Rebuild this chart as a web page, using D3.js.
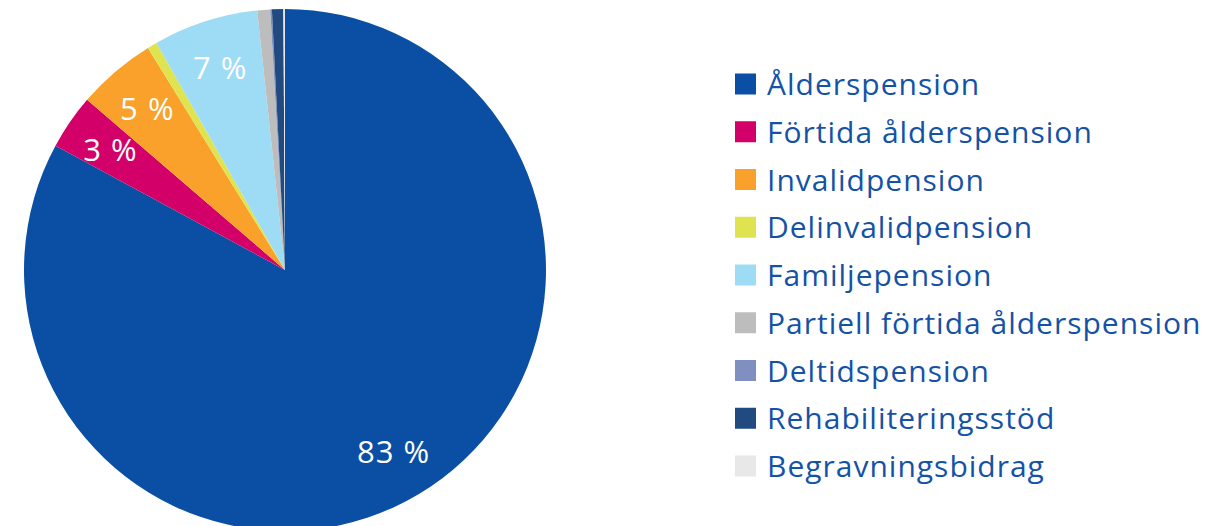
<!DOCTYPE html>
<html>
<head>
<meta charset="utf-8">
<script src="https://cdn.jsdelivr.net/npm/d3@7"></script>
<style>
  body { margin: 0; background: #fff; }
  text { font-family: "Open Sans", "Noto Sans", sans-serif; }
</style>
</head>
<body>
<script>
var categories = ["Ålderspension", "Förtida ålderspension", "Invalidpension", "Delinvalidpension",
                  "Familjepension", "Partiell förtida ålderspension", "Deltidspension",
                  "Rehabiliteringsstöd", "Begravningsbidrag"];
var shares = [82.9, 3.4, 4.9, 0.6, 6.5, 0.8, 0.1, 0.7, 0.1];
var labels = ["83 %", "3 %", "5 %", "", "7 %", "", "", "", ""];
var colors = ["#0a4fa3", "#d20068", "#f9a12a", "#dfe34f", "#9ddcf4", "#bdbdbd", "#7f90c0", "#214a80", "#e8e8e8"];

var data = categories.map(function(c, i){ return {name: c, value: shares[i], label: labels[i]}; });

var width = 1232, height = 526;
var cx = 285, cy = 270, r = 261;

var svg = d3.select("body").append("svg").attr("width", width).attr("height", height);

var color = d3.scaleOrdinal().domain(categories).range(colors);

var pie = d3.pie().sort(null).value(function(d){ return d.value; });
var arc = d3.arc().innerRadius(0).outerRadius(r);
var labelArc = d3.arc().innerRadius(212).outerRadius(212);

var g = svg.append("g").attr("transform", "translate(" + cx + "," + cy + ")");

g.selectAll("path")
      .data(pie(data))
      .enter().append("path")
                .attr("d", arc)
                .attr("fill", function(d){ return color(d.data.name); });

g.selectAll("text")
      .data(pie(data).filter(function(d){ return d.data.label; }))
      .enter().append("text")
                .attr("transform", function(d){ return "translate(" + labelArc.centroid(d) + ")"; })
                .attr("text-anchor", "middle")
                .attr("dy", "0.36em")
                .attr("fill", "#fff")
                .attr("font-size", 31)
                .attr("letter-spacing", 1)
                .text(function(d){ return d.data.label; });

// legend
var ly = d3.scalePoint().domain(categories).range([84, 466]);
var legend = svg.selectAll("g.legend")
      .data(categories)
      .enter().append("g")
                .attr("class", "legend")
                .attr("transform", function(d){ return "translate(735," + ly(d) + ")"; });

legend.append("rect")
      .attr("x", 0).attr("y", -10.5)
      .attr("width", 21).attr("height", 21)
      .attr("fill", function(d){ return color(d); });

legend.append("text")
      .attr("x", 32).attr("y", 11)
      .attr("font-size", 30)
      .attr("letter-spacing", 1)
      .attr("fill", "#1552a6")
      .text(function(d){ return d; });
</script>
</body>
</html>
